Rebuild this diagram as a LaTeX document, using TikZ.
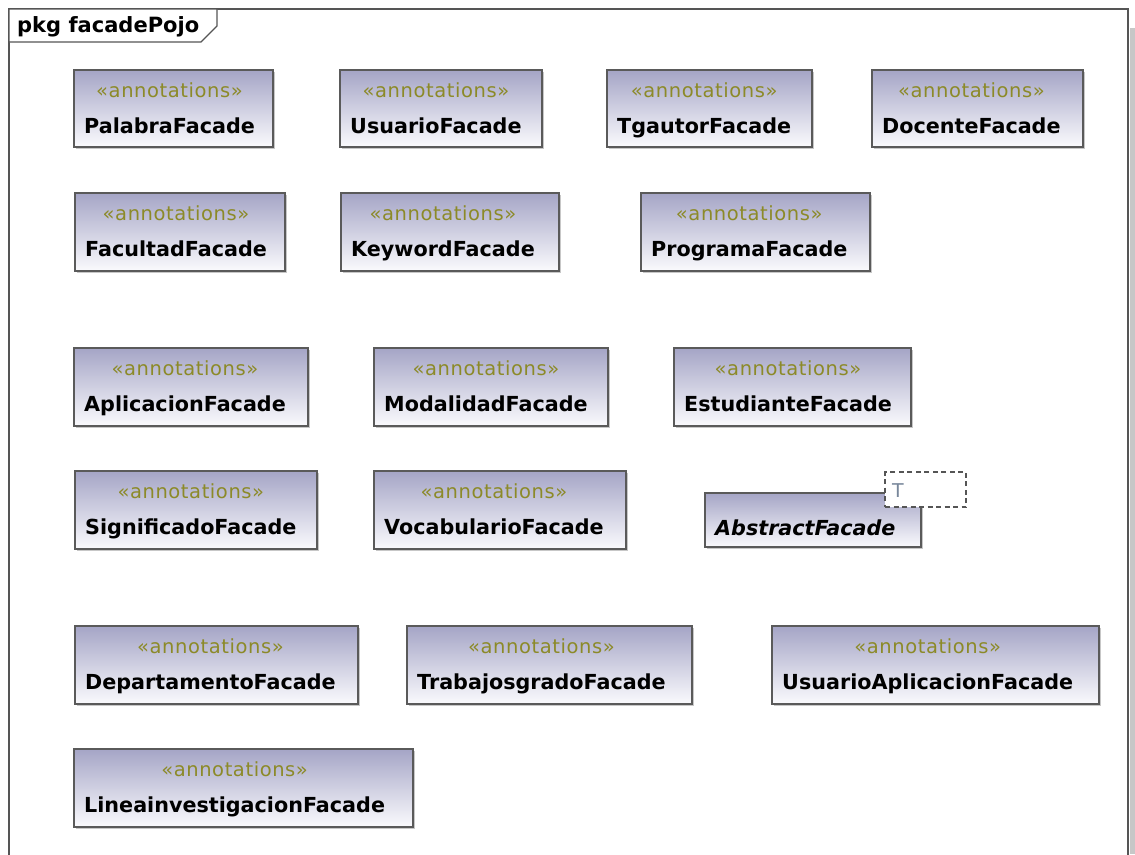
\documentclass[tikz,border=0pt]{standalone}
\usepackage{fontspec}
\setmainfont{DejaVu Sans}
\newfontfamily\stereofont[LetterSpace=3]{DejaVu Sans}
\usetikzlibrary{calc,shadows}

\definecolor{frameline}{RGB}{85,85,85}
\definecolor{boxline}{RGB}{90,90,90}
\definecolor{boxtop}{RGB}{165,165,198}
\definecolor{boxbot}{RGB}{250,250,253}
\definecolor{stereo}{RGB}{140,138,40}
\definecolor{tparam}{RGB}{120,135,155}

\tikzset{
  classbox/.style={draw=boxline, line width=1.5pt, top color=boxtop, bottom color=boxbot,
    inner sep=0pt, outer sep=0pt,
    drop shadow={shadow xshift=1.5pt, shadow yshift=-1.5pt, fill=black, opacity=0.22}},
  nametext/.style={anchor=base west, inner sep=0pt, font=\bfseries\fontsize{20.7}{21}\selectfont},
  stereotext/.style={anchor=base, inner sep=0pt, text=stereo, font=\stereofont\fontsize{19.5}{19.5}\selectfont},
  tparambox/.style={draw=frameline, line width=1.5pt, dash pattern=on 5pt off 3.5pt, fill=white,
    inner sep=0pt, outer sep=0pt},
}

% #1 class name, #2 left, #3 top, #4 right, #5 bottom
\newcommand\facadebox[5]{%
  \node[classbox, minimum width={#4-#2}, minimum height={#5-#3}] (#1) at ({(#2+#4)/2},{(#3+#5)/2}) {};
  \node[nametext] (#1-name) at (#2+10,#3+63) {#1};
  \node[stereotext] (#1-st) at ($(#1-name.base)+(0,-36)$) {«annotations»};
}

\begin{document}
\begin{tikzpicture}[x=1pt,y=-1pt]
\useasboundingbox (0,0) rectangle (1135,854);

% package frame with its shadow
\fill[black!22] (1130,28) rectangle (1135,854);
\draw[frameline, line width=1.6pt] (9,860) -- (9,9) -- (1128,9) -- (1128,860);
\draw[frameline, line width=1.4pt, fill=white] (9,9) -- (217,9) -- (217,26) -- (201,42) -- (9,42) -- cycle;
\node[anchor=base west, inner sep=0pt, font=\bfseries\fontsize{21}{21}\selectfont] (pkgtitle) at (17,32) {pkg facadePojo};

% row 1
\facadebox{PalabraFacade}{74}{70}{273}{147}
\facadebox{UsuarioFacade}{340}{70}{542}{147}
\facadebox{TgautorFacade}{607}{70}{812}{147}
\facadebox{DocenteFacade}{872}{70}{1083}{147}

% row 2
\facadebox{FacultadFacade}{75}{193}{285}{271}
\facadebox{KeywordFacade}{341}{193}{559}{271}
\facadebox{ProgramaFacade}{641}{193}{870}{271}

% row 3
\facadebox{AplicacionFacade}{74}{348}{308}{426}
\facadebox{ModalidadFacade}{374}{348}{608}{426}
\facadebox{EstudianteFacade}{674}{348}{911}{426}

% row 4
\facadebox{SignificadoFacade}{75}{471}{317}{549}
\facadebox{VocabularioFacade}{374}{471}{626}{549}

% abstract class with its template parameter
\node[classbox, minimum width=216, minimum height=54] (AbstractFacade) at (813,520) {};
\node[nametext, font=\bfseries\itshape\fontsize{20.7}{21}\selectfont] (AbstractFacade-name) at (715,535) {AbstractFacade};
\node[tparambox, minimum width=81, minimum height=35] (tparam) at (925.5,489.5) {};
\node[anchor=base west, inner sep=0pt, text=tparam, font=\fontsize{19}{19}\selectfont] (tparam-T) at (892,497) {T};

% row 5
\facadebox{DepartamentoFacade}{75}{626}{358}{704}
\facadebox{TrabajosgradoFacade}{407}{626}{692}{704}
\facadebox{UsuarioAplicacionFacade}{772}{626}{1099}{704}

% row 6
\facadebox{LineainvestigacionFacade}{74}{749}{413}{827}
\end{tikzpicture}
\end{document}
